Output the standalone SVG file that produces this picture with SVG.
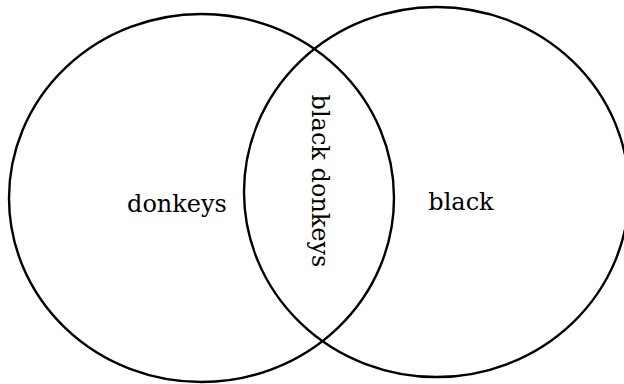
<svg xmlns="http://www.w3.org/2000/svg" width="624" height="384" viewBox="0 0 624 384">
  <style>
    .set { fill: none; stroke: #000; stroke-width: 2.4; }
    .lbl { font-family: "DejaVu Serif", "Liberation Serif", serif; font-size: 24px; fill: #000; text-anchor: middle; }
  </style>
  <rect width="624" height="384" fill="#fff"/>
  <g id="donkeys">
    <ellipse class="set" cx="201.5" cy="198" rx="192.5" ry="184"/>
    <text class="lbl" x="177" y="212">donkeys</text>
  </g>
  <g id="black">
    <ellipse class="set" cx="436.5" cy="192" rx="192.5" ry="185"/>
    <text class="lbl" x="461" y="210">black</text>
  </g>
  <g id="black-donkeys">
    <text class="lbl" transform="translate(312,181) rotate(90)" x="0" y="0">black donkeys</text>
  </g>
</svg>
